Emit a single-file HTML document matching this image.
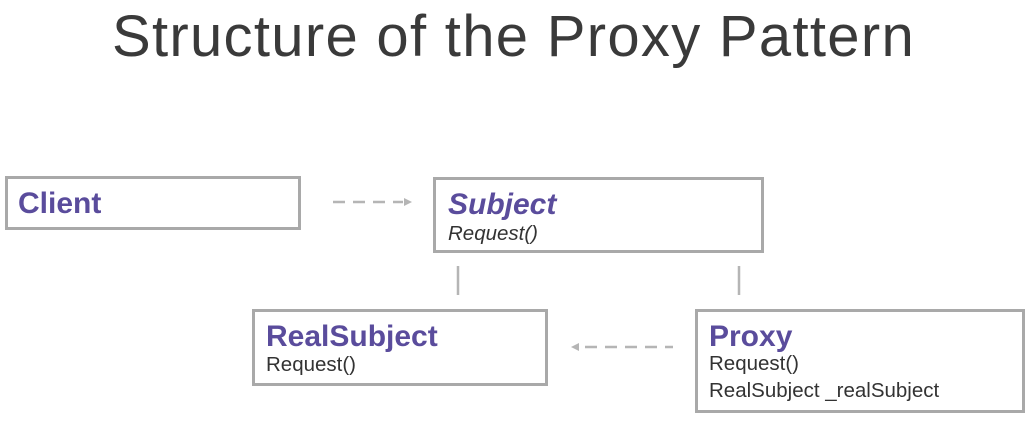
<!DOCTYPE html>
<html><head><style>
body{margin:0;width:1027px;height:421px;background:#fff;position:relative;overflow:hidden;font-family:"Liberation Sans",sans-serif}
.t{position:absolute;left:0;width:1027px;top:4px;text-align:center;font-size:58px;color:#3a3a3a;font-weight:300;letter-spacing:1.3px;line-height:1.15}
.b{position:absolute;border:3px solid #a9a9a9;box-sizing:border-box}
.h{position:absolute;font-weight:bold;color:#5a4c9c;font-size:30px;line-height:1}
.s{position:absolute;color:#333;font-size:20.5px;line-height:1}
</style></head><body>
<div class="t">Structure of the Proxy Pattern</div>
<div class="b" style="left:5px;top:176px;width:296px;height:54px"></div>
<div class="b" style="left:433px;top:177px;width:331px;height:76px"></div>
<div class="b" style="left:252px;top:309px;width:296px;height:77px"></div>
<div class="b" style="left:695px;top:309px;width:330px;height:104px"></div>
<div class="h" style="left:18px;top:189px">Client</div>
<div class="h" style="left:448px;top:190px;font-style:italic">Subject</div>
<div class="s" style="left:448px;top:224px;font-style:italic">Request()</div>
<div class="h" style="left:266px;top:322px">RealSubject</div>
<div class="s" style="left:266px;top:355px">Request()</div>
<div class="h" style="left:709px;top:322px">Proxy</div>
<div class="s" style="left:709px;top:354px">Request()</div>
<div class="s" style="left:709px;top:381px">RealSubject _realSubject</div>
<svg width="1027" height="421" style="position:absolute;left:0;top:0">
<g stroke="#b5b5b5" stroke-width="2.5" fill="none">
<line x1="333" y1="202" x2="403" y2="202" stroke-dasharray="12,8"/>
<line x1="458" y1="266" x2="458" y2="295"/>
<line x1="739" y1="266" x2="739" y2="295"/>
<line x1="585" y1="347" x2="673" y2="347" stroke-dasharray="12,8"/>
</g>
<polygon points="404,198 412,202 404,206" fill="#b5b5b5"/>
<polygon points="579,343 571,347 579,351" fill="#b5b5b5"/>
</svg>
</body></html>
